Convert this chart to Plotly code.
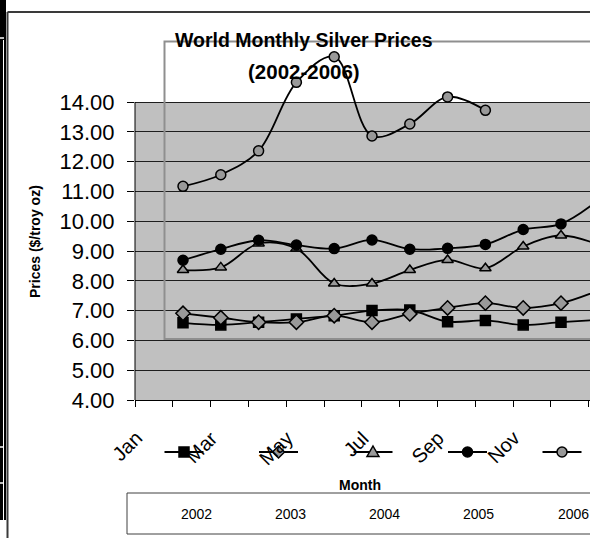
import plotly.graph_objects as go

# ---------------- data ----------------
months = ["Jan", "Feb", "Mar", "Apr", "May", "Jun", "Jul", "Aug", "Sep", "Oct", "Nov", "Dec"]
years = ["2002", "2003", "2004", "2005", "2006"]
p2002 = [6.59, 6.52, 6.61, 6.72, 6.83, 7.00, 7.02, 6.63, 6.67, 6.52, 6.61, 6.69]
p2003 = [6.91, 6.76, 6.61, 6.61, 6.83, 6.61, 6.89, 7.09, 7.25, 7.09, 7.25, 7.68]
p2004 = [8.36, 8.45, 9.25, 9.08, 7.91, 7.91, 8.36, 8.70, 8.42, 9.15, 9.52, 9.21]
p2005 = [8.69, 9.06, 9.36, 9.20, 9.08, 9.37, 9.06, 9.09, 9.22, 9.72, 9.91, 10.72]
p2006 = [11.17, 11.56, 12.36, 14.66, 15.52, 12.86, 13.26, 14.17, 13.72, None, None, None]
series = [p2002, p2003, p2004, p2005, p2006]
y_ticks = [4, 5, 6, 7, 8, 9, 10, 11, 12, 13, 14]
shown_month_labels = ["Jan", "Mar", "May", "Jul", "Sep", "Nov"]

# ---------------- styles / layout ----------------
FONT = "Liberation Sans, Arial, sans-serif"
GRAY = "#999999"
symbols = ["square", "diamond", "triangle-up", "circle", "circle"]
fills = ["#000000", GRAY, GRAY, "#000000", GRAY]

W, H = 590, 538
L = 135
Y14_PX, Y4_PX = 102, 400          # pixel rows of the 14.00 and 4.00 gridlines
UNIT = (Y4_PX - Y14_PX) / 10.0    # pixels per $1
T = 40                            # top of (invisible) plotting region
B = H - Y4_PX
Y_TOP = 14 + (Y14_PX - T) / UNIT  # axis range extends above 14 so high points stay visible
STEP = 37.8                       # pixel width of one month category
FIRST = 183                       # pixel of the first month point
x_lo = (L - FIRST) / STEP
x_hi = (W - FIRST) / STEP


def px(x):
    return (x - L) / (W - L)


def py(y):
    return (Y4_PX - y) / (Y4_PX - T)


fig = go.Figure()
xi = list(range(len(months)))
for name, vals, sym, fc in zip(years, series, symbols, fills):
    fig.add_trace(go.Scatter(
        x=xi, y=vals, name=name, mode="lines+markers",
        line=dict(color="black", width=1.8, shape="spline", smoothing=1),
        marker=dict(symbol=sym, size=10 if sym != "diamond" else 11, color=fc,
                    line=dict(color="black", width=1.5)),
        showlegend=False, hoverinfo="skip",
    ))

shapes = []
# gray plotting background (4.00 .. 14.00 only)
shapes.append(dict(type="rect", xref="paper", yref="y", x0=0, x1=1, y0=4, y1=14,
                   fillcolor="#c0c0c0", line=dict(width=0), layer="below"))
# y axis line
shapes.append(dict(type="line", xref="paper", yref="y", x0=0, x1=0, y0=4, y1=14,
                   line=dict(color="black", width=1), layer="above"))
# left black decoration
shapes.append(dict(type="rect", xref="paper", yref="paper", x0=px(0), x1=px(6), y0=py(0), y1=py(520),
                   fillcolor="black", line=dict(width=0), layer="above"))
shapes.append(dict(type="line", xref="paper", yref="paper", x0=px(3.5), x1=px(3.5), y0=py(40), y1=py(520),
                   line=dict(color="white", width=1), layer="above"))
for ny in (38, 447, 483):
    shapes.append(dict(type="line", xref="paper", yref="paper", x0=px(0), x1=px(4), y0=py(ny), y1=py(ny),
                       line=dict(color="white", width=1.5), layer="above"))
# outer dark frame
shapes.append(dict(type="line", xref="paper", yref="paper", x0=px(7.5), x1=px(7.5), y0=py(12), y1=py(540),
                   line=dict(color="#3a3a3a", width=2), layer="above"))
shapes.append(dict(type="line", xref="paper", yref="paper", x0=px(7.5), x1=px(592), y0=py(12), y1=py(12),
                   line=dict(color="#3a3a3a", width=2), layer="above"))
# leftover gray plot-area border
shapes.append(dict(type="rect", xref="paper", yref="paper", x0=px(164.5), x1=px(600), y0=py(339), y1=py(41.5),
                   line=dict(color="#8f8f8f", width=2), layer="above"))
# legend box
shapes.append(dict(type="rect", xref="paper", yref="paper", x0=px(127), x1=px(600), y0=py(534), y1=py(493),
                   line=dict(color="#404040", width=1), layer="above"))

# legend keys (line + symbol) drawn as shapes
KEY0, KEYSTEP, KEYY, KEYHALF = 184, 94.5, 452, 19.5
for i, (sym, fc) in enumerate(zip(symbols, fills)):
    c = KEY0 + KEYSTEP * i
    shapes.append(dict(type="line", xref="paper", yref="paper", x0=px(c - KEYHALF), x1=px(c + KEYHALF),
                       y0=py(KEYY), y1=py(KEYY), line=dict(color="black", width=1.8), layer="above"))
    style = dict(xref="paper", yref="paper", fillcolor=fc, line=dict(color="black", width=1.5), layer="above")
    if sym == "square":
        shapes.append(dict(type="rect", x0=px(c - 5), x1=px(c + 5), y0=py(KEYY + 5), y1=py(KEYY - 5), **style))
    elif sym == "circle":
        shapes.append(dict(type="circle", x0=px(c - 5), x1=px(c + 5), y0=py(KEYY + 5), y1=py(KEYY - 5), **style))
    elif sym == "diamond":
        path = "M {} {} L {} {} L {} {} L {} {} Z".format(px(c), py(KEYY - 6), px(c + 6), py(KEYY),
                                                            px(c), py(KEYY + 6), px(c - 6), py(KEYY))
        shapes.append(dict(type="path", path=path, **style))
    else:
        path = "M {} {} L {} {} L {} {} Z".format(px(c), py(KEYY - 6), px(c + 6), py(KEYY + 4.5),
                                                  px(c - 6), py(KEYY + 4.5))
        shapes.append(dict(type="path", path=path, **style))

ann = []
ann.append(dict(text="<b>World Monthly Silver Prices</b>", xref="paper", yref="paper", x=px(304), y=py(40),
                xanchor="center", yanchor="middle", showarrow=False, font=dict(size=19.5, color="black", family=FONT)))
ann.append(dict(text="<b>(2002-2006)</b>", xref="paper", yref="paper", x=px(303.5), y=py(71.5),
                xanchor="center", yanchor="middle", showarrow=False, font=dict(size=20.5, color="black", family=FONT)))
ann.append(dict(text="<b>Prices ($/troy oz)</b>", xref="paper", yref="paper", x=px(35), y=py(242),
                xanchor="center", yanchor="middle", textangle=-90, showarrow=False,
                font=dict(size=14, color="black", family=FONT)))
ann.append(dict(text="<b>Month</b>", xref="paper", yref="paper", x=px(360), y=py(484.5),
                xanchor="center", yanchor="middle", showarrow=False, font=dict(size=14, color="black", family=FONT)))
for i, lab in enumerate(shown_month_labels):
    ann.append(dict(text=lab, xref="x", yref="paper", x=x_lo + 2 * i, y=py(424), xshift=14,
                    xanchor="right", yanchor="top", textangle=-45, showarrow=False,
                    font=dict(size=20, color="black", family=FONT)))
LEG0, LEGSTEP = 196, 94.3
for i, yr in enumerate(years):
    ann.append(dict(text=yr, xref="paper", yref="paper", x=px(LEG0 + LEGSTEP * i), y=py(514),
                    xanchor="center", yanchor="middle", showarrow=False,
                    font=dict(size=14, color="black", family=FONT)))

fig.update_layout(
    width=W, height=H,
    margin=dict(l=L, r=0, t=T, b=B, pad=0),
    paper_bgcolor="white", plot_bgcolor="rgba(0,0,0,0)",
    font=dict(family=FONT, color="black"),
    showlegend=False,
    shapes=shapes, annotations=ann,
    xaxis=dict(range=[x_lo, x_hi], tickvals=[x_lo + k for k in range(13)], showticklabels=False,
               ticks="outside", ticklen=6, tickcolor="black", tickwidth=1,
               showline=True, linecolor="black", linewidth=1, showgrid=False, zeroline=False,
               fixedrange=True, automargin=False),
    yaxis=dict(range=[4, Y_TOP], tickvals=y_ticks, tickformat=".2f", ticks="outside", ticklen=7,
               tickcolor="black", tickwidth=1, tickfont=dict(size=22, family=FONT, color="black"),
               ticklabelstandoff=8,
               showline=False, showgrid=True, gridcolor="#1e1e1e",
               gridwidth=1, zeroline=False, fixedrange=True, automargin=False),
)

fig.write_html("out.html", config={"displayModeBar": False, "staticPlot": True},
               post_script="document.body.style.margin='0';document.body.style.overflow='hidden';")
